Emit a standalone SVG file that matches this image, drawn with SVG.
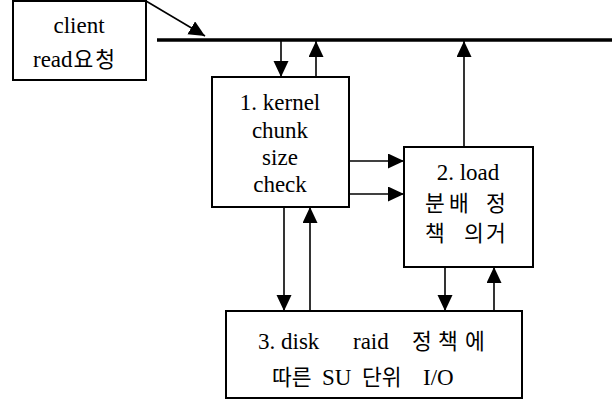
<svg xmlns="http://www.w3.org/2000/svg" width="616" height="400" viewBox="0 0 616 400">
<style>
.box{fill:#fff;stroke:#000;stroke-width:2}
.t{font-family:"Liberation Serif","Times New Roman","Noto Sans CJK KR",serif;font-size:23px;fill:#000;text-anchor:middle}
.s{text-anchor:start}
.k{font-family:"Noto Sans CJK KR",sans-serif;font-weight:400;font-size:21.5px}
.c{stroke:#000;stroke-width:1.6;fill:none}
.bus{stroke:#000;stroke-width:3.5}
</style>
<defs>
<marker id="ah" markerUnits="userSpaceOnUse" markerWidth="18" markerHeight="16" refX="16" refY="7.5" orient="auto">
<path d="M0,0 L16,7.5 L0,15 Z" fill="#000"/>
</marker>
</defs>
<rect width="616" height="400" fill="#fff"/>
<g id="connectors">
<line class="bus" x1="157" y1="40" x2="612" y2="40"/>
<line class="c" x1="146" y1="1" x2="205" y2="36" marker-end="url(#ah)"/>
<line class="c" x1="281" y1="41" x2="281" y2="77" marker-end="url(#ah)"/>
<line class="c" x1="316" y1="77" x2="316" y2="41" marker-end="url(#ah)"/>
<line class="c" x1="464" y1="147" x2="464" y2="41" marker-end="url(#ah)"/>
<line class="c" x1="349" y1="161" x2="404" y2="161" marker-end="url(#ah)"/>
<line class="c" x1="349" y1="194" x2="404" y2="194" marker-end="url(#ah)"/>
<line class="c" x1="284" y1="207" x2="284" y2="311" marker-end="url(#ah)"/>
<line class="c" x1="310" y1="311" x2="310" y2="207" marker-end="url(#ah)"/>
<line class="c" x1="445" y1="267" x2="445" y2="311" marker-end="url(#ah)"/>
<line class="c" x1="494" y1="311" x2="494" y2="267" marker-end="url(#ah)"/>
</g>
<g id="client">
<rect class="box" x="13" y="1" width="133" height="79"/>
<text class="t" x="79" y="33">client</text>
<text class="t s" x="33" y="67">read<tspan class="k" dx="1">요</tspan><tspan class="k" dx="2">청</tspan></text>
</g>
<g id="kernel">
<rect class="box" x="212" y="77" width="137" height="130"/>
<text class="t" x="280" y="110">1. kernel</text>
<text class="t" x="280" y="138">chunk</text>
<text class="t" x="280" y="165">size</text>
<text class="t" x="280" y="192">check</text>
</g>
<g id="load">
<rect class="box" x="404" y="147" width="129" height="120"/>
<text class="t" x="468" y="180">2. load</text>
<text class="t s k" x="425" y="211">분<tspan x="449">배</tspan> <tspan x="486">정</tspan></text>
<text class="t s k" x="425" y="241">책 <tspan x="464">의</tspan><tspan x="486">거</tspan></text>
</g>
<g id="disk">
<rect class="box" x="226" y="311" width="296" height="87"/>
<text class="t s" x="258" y="349">3. disk <tspan x="353">raid</tspan> <tspan class="k" x="412">정</tspan><tspan class="k" x="438">책</tspan><tspan class="k" x="465">에</tspan></text>
<text class="t s" x="272" y="385"><tspan class="k">따른</tspan> <tspan x="322">SU</tspan> <tspan class="k" x="362">단위</tspan> <tspan x="423">I/O</tspan></text>
</g>
</svg>
